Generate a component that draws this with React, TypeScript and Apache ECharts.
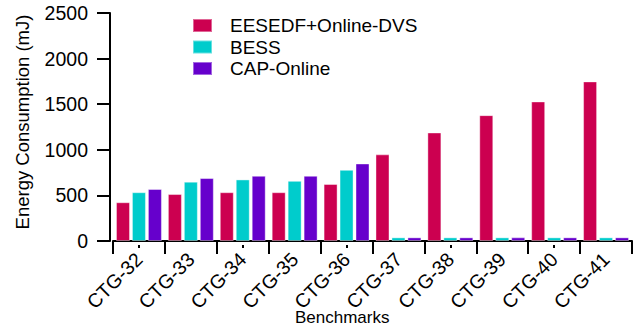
import React, { useEffect, useRef } from "react";
import * as echarts from "echarts";

const categories = ["CTG-32", "CTG-33", "CTG-34", "CTG-35", "CTG-36", "CTG-37", "CTG-38", "CTG-39", "CTG-40", "CTG-41"];
const seriesNames = ["EESEDF+Online-DVS", "BESS", "CAP-Online"];
const eesedfValues = [425, 515, 535, 535, 625, 950, 1190, 1380, 1530, 1750];
const bessValues = [535, 650, 675, 660, 780, 40, 40, 40, 40, 40];
const capValues = [570, 690, 715, 715, 850, 40, 40, 40, 40, 40];
const colors = ["#CC0050", "#00CCCC", "#6600CC"];
const yMin = 0;
const yMax = 2500;
const yInterval = 500;

const FONT = "'Liberation Sans', Arial, Helvetica, sans-serif";

export default function App() {
  const ref = useRef<HTMLDivElement>(null);
  useEffect(() => {
    if (!ref.current) return;
    const chart = echarts.init(ref.current, null, { renderer: "svg" });
    const values = [eesedfValues, bessValues, capValues];
    chart.setOption({
      animation: false,
      backgroundColor: "#ffffff",
      textStyle: { fontFamily: FONT, color: "#000" },
      grid: { left: 113, right: 12, top: 13, bottom: 89, containLabel: false },
      legend: {
        orient: "vertical",
        left: 192,
        top: 16,
        padding: 0,
        itemWidth: 19,
        itemHeight: 13,
        itemGap: 2.5,
        icon: "rect",
        data: seriesNames,
        textStyle: { fontFamily: FONT, fontSize: 19, color: "#000", padding: [0, 0, 0, 13], lineHeight: 15 },
      },
      xAxis: [
        {
          type: "category",
          data: categories,
          position: "bottom",
          offset: 4,
          axisLine: { show: true, lineStyle: { color: "#000", width: 2 } },
          axisTick: { show: true, length: 13, lineStyle: { color: "#000", width: 2 } },
          axisLabel: { rotate: 45, fontSize: 19.5, color: "#000", fontFamily: FONT, margin: 11 },
        },
        {
          type: "category",
          data: categories,
          position: "bottom",
          offset: 4,
          axisLine: { show: false },
          axisTick: { show: true, alignWithLabel: true, length: 3, lineStyle: { color: "#000", width: 2 } },
          axisLabel: { show: false },
        },
      ],
      yAxis: {
        type: "value",
        min: yMin,
        max: yMax,
        interval: yInterval,
        offset: 3,
        name: "Energy Consumption (mJ)",
        nameLocation: "middle",
        nameGap: 78,
        nameTextStyle: { fontSize: 18.5, color: "#000", fontFamily: FONT, padding: [0, 0, 0, 10] },
        axisLine: { show: true, lineStyle: { color: "#000", width: 2 } },
        axisTick: { show: true, length: 13, lineStyle: { color: "#000", width: 2 } },
        axisLabel: { fontSize: 19.5, color: "#000", fontFamily: FONT, margin: 22, formatter: (v: number) => String(v) },
        splitLine: { show: false },
      },
      graphic: [
        {
          type: "text",
          left: 342 - 47,
          top: 309,
          style: { text: "Benchmarks", font: `17px ${FONT}`, fill: "#000" },
        },
      ],
      series: seriesNames.map((name, i) => ({
        name,
        type: "bar",
        xAxisIndex: 0,
        data: values[i],
        barWidth: 14,
        barGap: "14%",
        itemStyle: { color: colors[i], borderColor: "rgba(255,255,255,0.4)", borderWidth: 1 },
      })),
    });
    return () => chart.dispose();
  }, []);
  return <div ref={ref} style={{ position: "fixed", left: 0, top: 0, width: 644, height: 330 }} />;
}
